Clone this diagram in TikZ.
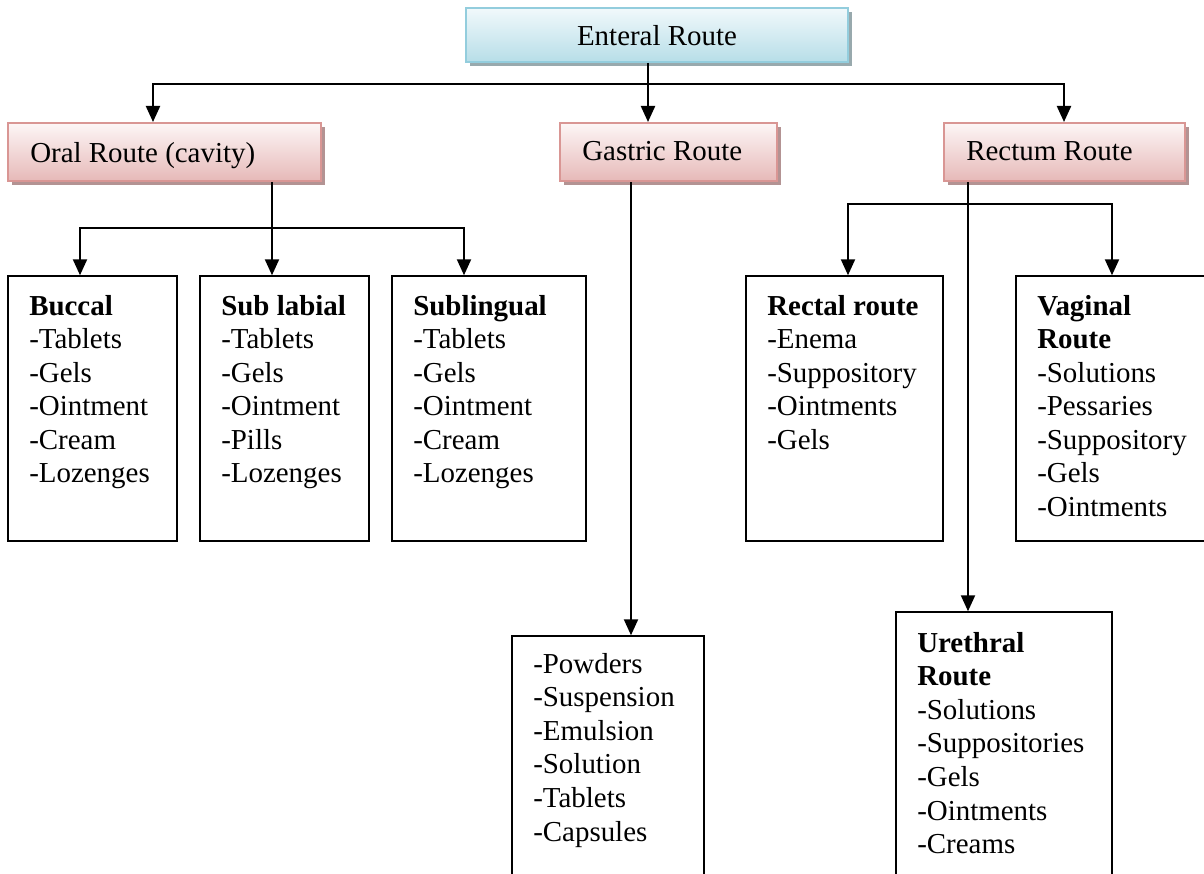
\documentclass[tikz,border=0pt]{standalone}
\usepackage{fontspec}
\setmainfont{Liberation Serif}
\usetikzlibrary{arrows.meta,fit,shadows}

\definecolor{headtop}{HTML}{F1F9FB}
\definecolor{headbot}{HTML}{B7DEE8}
\definecolor{headline}{HTML}{93CDDD}
\definecolor{headshade}{HTML}{98A9AD}
\definecolor{subtop}{HTML}{FDF6F6}
\definecolor{subbot}{HTML}{E6B9B8}
\definecolor{subline}{HTML}{D99694}
\definecolor{subshade}{HTML}{B39393}

% a stack of left-aligned lines whose baseline is that of the first line
\newcommand\linestack[1]{\vtop{\halign{##\hfil\cr#1\crcr}}}

\begin{document}
\begin{tikzpicture}[x=0.75pt,y=-0.75pt,
  txt/.style={font=\fontsize{21.7}{25.2}\selectfont, inner sep=0pt},
  headbox/.style={draw=headline, line width=1.5pt, top color=headtop, bottom color=headbot,
    inner sep=0pt, drop shadow={shadow xshift=3pt, shadow yshift=-3pt, fill=headshade, opacity=1}},
  subbox/.style={draw=subline, line width=1.5pt, top color=subtop, bottom color=subbot,
    inner sep=0pt, drop shadow={shadow xshift=3pt, shadow yshift=-3pt, fill=subshade, opacity=1}},
  listbox/.style={draw=black, line width=1.1pt, fill=white, inner sep=0pt},
  arr/.style={line width=1.6pt, -{Triangle[length=12pt,width=10.5pt]}}]

\useasboundingbox (0,0) rectangle (1204,874);
\clip (0,0) rectangle (1204,874);
\fill[white] (0,0) rectangle (1204,874);

% route boxes
\node[headbox, fit={(466,8)(848,62)}] (enteral) {};
\node[subbox, fit={(8,123)(321,181)}] (oral) {};
\node[subbox, fit={(560,123)(777,181)}] (gastric) {};
\node[subbox, fit={(944,123)(1185,181)}] (rectum) {};

\node[txt, anchor=base] (enteralT) at (657,46) {Enteral Route};
\node[txt, anchor=base west] (oralT) at (30,162) {Oral Route (cavity)};
\node[txt, anchor=base west] (gastricT) at (582,161) {Gastric Route};
\node[txt, anchor=base west] (rectumT) at (966,161) {Rectum Route};

% dosage form boxes
\node[listbox, fit={(8,276)(177,541)}] (buccal) {};
\node[listbox, fit={(200,276)(369,541)}] (sublabial) {};
\node[listbox, fit={(392,276)(586,541)}] (sublingual) {};
\node[listbox, fit={(746,276)(943,541)}] (rectal) {};
\node[listbox, fit={(1016,276)(1230,541)}] (vaginal) {};
\node[listbox, fit={(512,636)(704,900)}] (gastriclist) {};
\node[listbox, fit={(896,612)(1112,900)}] (urethral) {};

\node[txt, anchor=base west] (buccalT) at (29,315)
  {\linestack{\textbf{Buccal}\cr -Tablets\cr -Gels\cr -Ointment\cr -Cream\cr -Lozenges}};
\node[txt, anchor=base west] (sublabialT) at (221,315)
  {\linestack{\textbf{Sub labial}\cr -Tablets\cr -Gels\cr -Ointment\cr -Pills\cr -Lozenges}};
\node[txt, anchor=base west] (sublingualT) at (413,315)
  {\linestack{\textbf{Sublingual}\cr -Tablets\cr -Gels\cr -Ointment\cr -Cream\cr -Lozenges}};
\node[txt, anchor=base west] (rectalT) at (767,315)
  {\linestack{\textbf{Rectal route}\cr -Enema\cr -Suppository\cr -Ointments\cr -Gels}};
\node[txt, anchor=base west] (vaginalT) at (1037,315)
  {\linestack{\textbf{Vaginal}\cr \textbf{Route}\cr -Solutions\cr -Pessaries\cr -Suppository\cr -Gels\cr -Ointments}};
\node[txt, anchor=base west] (gastriclistT) at (533,673)
  {\linestack{-Powders\cr -Suspension\cr -Emulsion\cr -Solution\cr -Tablets\cr -Capsules}};
\node[txt, anchor=base west] (urethralT) at (917,652)
  {\linestack{\textbf{Urethral}\cr \textbf{Route}\cr -Solutions\cr -Suppositories\cr -Gels\cr -Ointments\cr -Creams}};

% junction points
\coordinate (e0) at (648,84);
\coordinate (eL) at (153,84);
\coordinate (eR) at (1064,84);
\coordinate (o0) at (272,228);
\coordinate (oL) at (80,228);
\coordinate (oR) at (464,228);
\coordinate (g0) at (631,0);
\coordinate (r0) at (968,204);
\coordinate (rL) at (848,204);
\coordinate (rR) at (1112,204);

% connectors
\draw[arr] (enteral.south -| e0) -- (gastric.north -| e0);
\draw[arr] (e0) -- (eL) -- (oral.north -| eL);
\draw[arr] (e0) -- (eR) -- (rectum.north -| eR);

\draw[arr] (oral.south -| o0) -- (sublabial.north -| o0);
\draw[arr] (o0) -- (oL) -- (buccal.north -| oL);
\draw[arr] (o0) -- (oR) -- (sublingual.north -| oR);

\draw[arr] (gastric.south -| g0) -- (gastriclist.north -| g0);

\draw[arr] (rectum.south -| r0) -- (urethral.north -| r0);
\draw[arr] (r0) -- (rL) -- (rectal.north -| rL);
\draw[arr] (r0) -- (rR) -- (vaginal.north -| rR);
\end{tikzpicture}
\end{document}
